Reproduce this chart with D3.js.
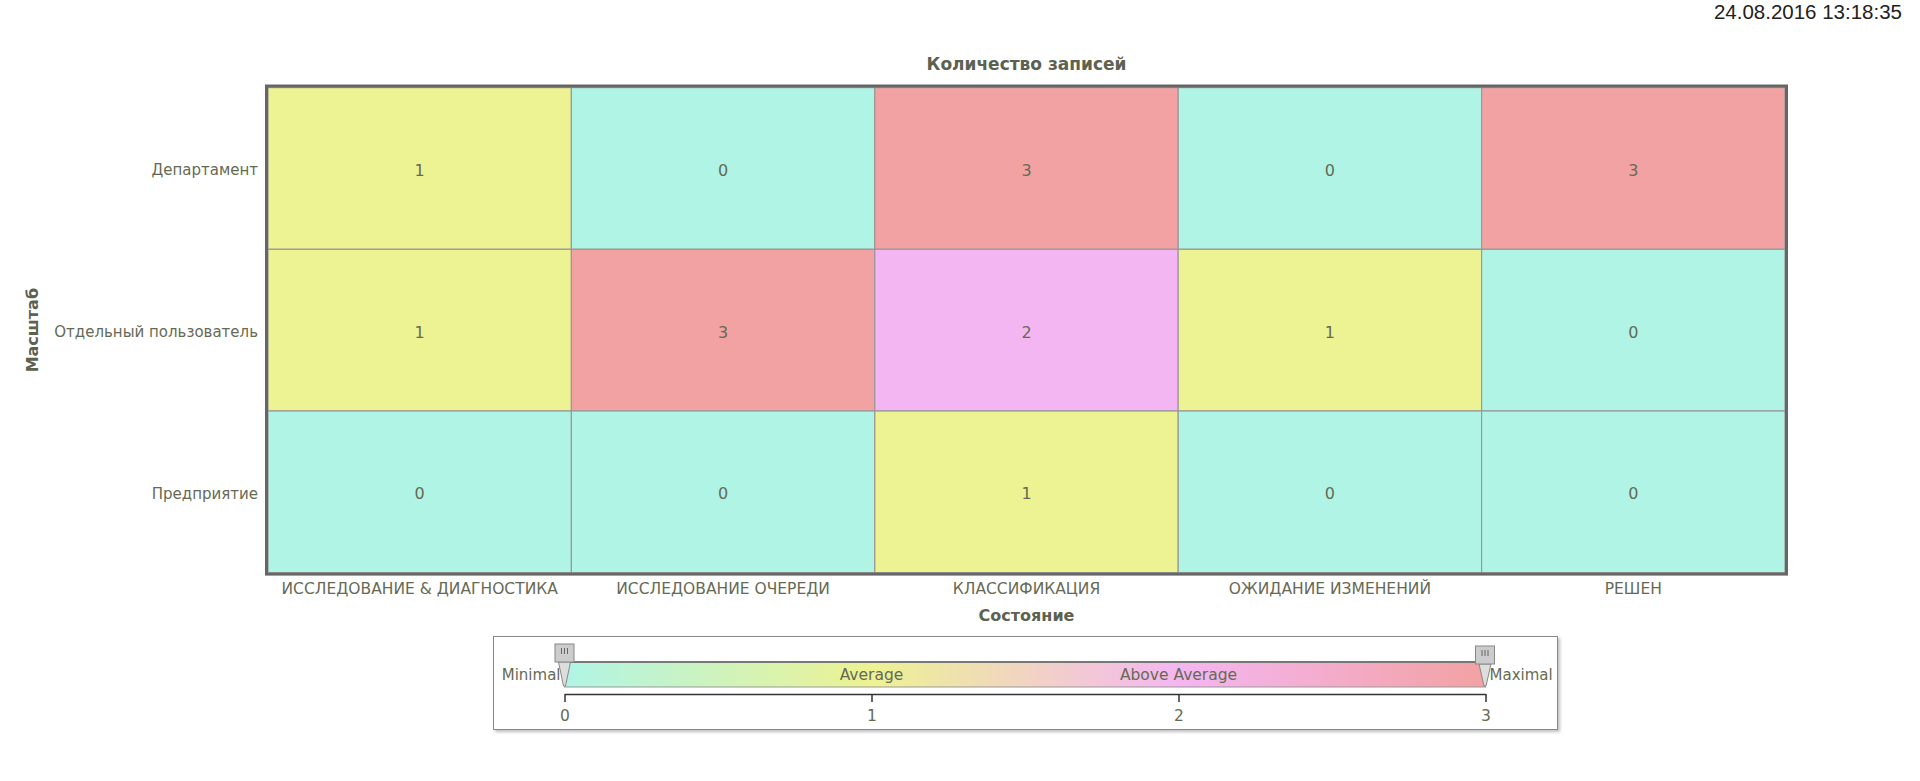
<!DOCTYPE html>
<html>
<head>
<meta charset="utf-8">
<script src="https://cdn.jsdelivr.net/npm/d3@7"></script>
<style>
  html, body { margin: 0; padding: 0; background: #ffffff; }
  svg { display: block; }
  text { font-family: "DejaVu Sans", Verdana, sans-serif; }
</style>
</head>
<body>
<svg id="chart" width="1920" height="781"></svg>
<script>
// ---- data ----
const timestamp = "24.08.2016 13:18:35";
const chartTitle = "Количество записей";
const xTitle = "Состояние";
const yTitle = "Масштаб";
const states = ["ИССЛЕДОВАНИЕ & ДИАГНОСТИКА", "ИССЛЕДОВАНИЕ ОЧЕРЕДИ", "КЛАССИФИКАЦИЯ", "ОЖИДАНИЕ ИЗМЕНЕНИЙ", "РЕШЕН"];
const scopes = ["Департамент", "Отдельный пользователь", "Предприятие"];
const countsDepartment = [1, 0, 3, 0, 3];
const countsUser = [1, 3, 2, 1, 0];
const countsEnterprise = [0, 0, 1, 0, 0];
const legendStops = [0, 1, 2, 3];
const legendColors = ["#b0f4e6", "#edf292", "#f4b6f2", "#f2a2a2"];
const legendTicks = [0, 1, 2, 3];
const legendLabels = [
  { value: 1, text: "Average" },
  { value: 2, text: "Above Average" }
];

const rows = [countsDepartment, countsUser, countsEnterprise];
const cells = [];
scopes.forEach((s, i) => states.forEach((st, j) => cells.push({ scope: s, state: st, value: rows[i][j] })));

const textColor = "#666a55";
const svg = d3.select("#chart");

// ---- scales ----
const x = d3.scaleBand().domain(states).range([268, 1785]);
const y = d3.scaleBand().domain(scopes).range([87.6, 572.7]);
const color = d3.scaleLinear().domain(legendStops).range(legendColors).interpolate(d3.interpolateRgb);

// timestamp
svg.append("text").attr("x", 1902).attr("y", 18.5).attr("text-anchor", "end")
  .style("font-family", "'Liberation Sans', Arial, sans-serif").style("font-size", "20.5px")
  .attr("fill", "#222").text(timestamp);

// title
svg.append("text").attr("x", (268 + 1785) / 2).attr("y", 70).attr("text-anchor", "middle")
  .style("font-size", "17px").style("font-weight", "bold").attr("fill", "#5c6150").text(chartTitle);

// cells
const g = svg.append("g");
g.selectAll("rect.cell").data(cells).join("rect").attr("class", "cell")
  .attr("x", d => x(d.state)).attr("y", d => y(d.scope))
  .attr("width", x.bandwidth()).attr("height", y.bandwidth())
  .attr("fill", d => color(d.value)).attr("stroke", "#999").attr("stroke-width", 1.2);

g.selectAll("text.val").data(cells).join("text").attr("class", "val")
  .attr("x", d => x(d.state) + x.bandwidth() / 2).attr("y", d => y(d.scope) + y.bandwidth() / 2 + 2)
  .attr("dy", "0.35em").attr("text-anchor", "middle").style("font-size", "16px")
  .attr("fill", textColor).text(d => d.value);

// frame
svg.append("rect").attr("x", 266.5).attr("y", 86).attr("width", 1785 - 268 + 3).attr("height", 572.7 - 87.6 + 3)
  .attr("fill", "none").attr("stroke", "#666").attr("stroke-width", 3);

// axes
const xAxis = svg.append("g").attr("transform", "translate(0,580)")
  .call(d3.axisBottom(x).tickSize(0).tickPadding(0));
xAxis.select(".domain").remove();
xAxis.selectAll("text").style("font-size", "15.5px").attr("fill", textColor)
  .style("font-family", "'DejaVu Sans', Verdana, sans-serif").attr("dy", "0.9em");

const yAxis = svg.append("g").attr("transform", "translate(258,2)")
  .call(d3.axisLeft(y).tickSize(0).tickPadding(0));
yAxis.select(".domain").remove();
yAxis.selectAll("text").style("font-size", "15px").attr("fill", textColor)
  .style("font-family", "'DejaVu Sans', Verdana, sans-serif");

svg.append("text").attr("x", (268 + 1785) / 2).attr("y", 621).attr("text-anchor", "middle")
  .style("font-size", "16px").style("font-weight", "bold").attr("fill", "#5c6150").text(xTitle);

svg.append("text").attr("transform", `translate(38,${(87.6 + 572.7) / 2}) rotate(-90)`).attr("text-anchor", "middle")
  .style("font-size", "16px").style("font-weight", "bold").attr("fill", "#5c6150").text(yTitle);

// ---- legend ----
const defs = svg.append("defs");
const filt = defs.append("filter").attr("id", "shadow").attr("x", "-5%").attr("y", "-20%").attr("width", "110%").attr("height", "150%");
filt.append("feDropShadow").attr("dx", 2).attr("dy", 2).attr("stdDeviation", 1.5).attr("flood-color", "#000").attr("flood-opacity", 0.25);

svg.append("rect").attr("x", 493.5).attr("y", 636.5).attr("width", 1064).attr("height", 93)
  .attr("fill", "#fff").attr("stroke", "#888").attr("stroke-width", 1).attr("filter", "url(#shadow)");

const lx = d3.scaleLinear().domain([0, 3]).range([564.5, 1485.5]);
const grad = defs.append("linearGradient").attr("id", "lg").attr("x1", "0%").attr("x2", "100%");
d3.range(0, 3.0001, 0.1).forEach(v => {
  grad.append("stop").attr("offset", (v / 3 * 100) + "%").attr("stop-color", color(v));
});
svg.append("rect").attr("x", lx(0)).attr("y", 662).attr("width", lx(3) - lx(0)).attr("height", 25)
  .attr("fill", "url(#lg)").attr("stroke", "#999").attr("stroke-width", 1);
svg.append("line").attr("x1", lx(0)).attr("x2", lx(3)).attr("y1", 662).attr("y2", 662)
  .attr("stroke", "#777").attr("stroke-width", 2);

svg.selectAll("text.lab").data(legendLabels).join("text").attr("class", "lab")
  .attr("x", d => lx(d.value)).attr("y", 675).attr("dy", "0.35em").attr("text-anchor", "middle")
  .style("font-size", "15.5px").attr("fill", textColor).text(d => d.text);

svg.append("text").attr("x", lx(0) - 4).attr("y", 675).attr("dy", "0.35em").attr("text-anchor", "end")
  .style("font-size", "15px").attr("fill", textColor).text("Minimal");
svg.append("text").attr("x", lx(3) + 4).attr("y", 675).attr("dy", "0.35em").attr("text-anchor", "start")
  .style("font-size", "15px").attr("fill", textColor).text("Maximal");

const lAxis = svg.append("g").attr("transform", "translate(0,694)")
  .call(d3.axisBottom(lx).tickValues(legendTicks).tickFormat(d3.format("d")).tickSize(8).tickSizeOuter(0).tickPadding(8));
lAxis.select(".domain").attr("stroke", "#333").attr("stroke-width", 1.5);
lAxis.selectAll(".tick line").attr("stroke", "#333").attr("stroke-width", 1.5);
lAxis.selectAll("text").style("font-size", "15.5px").attr("fill", textColor)
  .style("font-family", "'DejaVu Sans', Verdana, sans-serif");

// handles
function handle(xc, top) {
  const hg = svg.append("g");
  hg.append("path").attr("d", `M${xc - 6},${top + 18} L${xc + 6},${top + 18} L${xc + 1},${686} L${xc - 1},${686} Z`)
    .attr("fill", "#ddd").attr("stroke", "#888").attr("stroke-width", 1);
  hg.append("rect").attr("x", xc - 9.5).attr("y", top).attr("width", 19).attr("height", 18)
    .attr("fill", "#ccc").attr("stroke", "#888").attr("stroke-width", 1);
  [-3, 0, 3].forEach(o => hg.append("line").attr("x1", xc + o).attr("x2", xc + o)
    .attr("y1", top + 4).attr("y2", top + 10).attr("stroke", "#666").attr("stroke-width", 1));
}
handle(lx(0), 644);
handle(lx(3) - 0.5, 646);
</script>
</body>
</html>
